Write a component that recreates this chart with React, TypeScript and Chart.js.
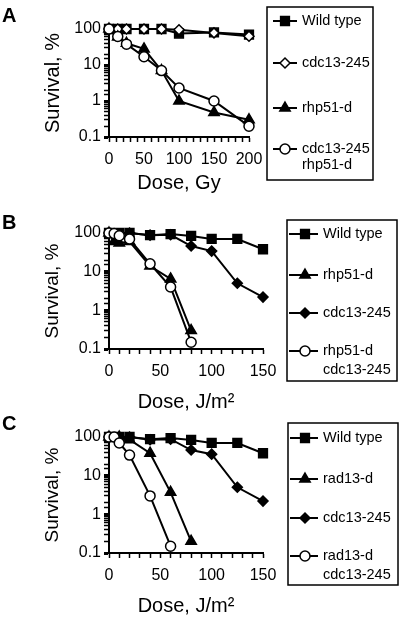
import React, { useEffect, useRef } from 'react';
import { Chart, registerables } from 'chart.js';
import { drawPoint } from 'chart.js/helpers';

Chart.register(...registerables);

const FAMILY = '"Liberation Sans", Arial, sans-serif';

// ---------- Panel A: ionising radiation (Gy) ----------
const doseA = [0, 12.5, 25, 50, 75, 100, 150, 200];
const wildTypeA = [100, 100, 100, 100, 100, 75, 80, 70];
const cdc13A = [100, 100, 100, 100, 100, 95, 78, 63];
const rhp51A = [100, 60, 40, 28, 7, 1.0, 0.48, 0.3];
const cdc13Rhp51A = [100, 62, 38, 17, 7, 2.3, 1.0, 0.2];
const xTicksA = [0, 50, 100, 150, 200];

// ---------- Panel B: UV (J/m2) ----------
const doseWtB = [0, 10, 20, 40, 60, 80, 100, 125, 150];
const wildTypeB = [100, 100, 100, 88, 94, 84, 70, 70, 38];
const doseRhp51B = [0, 5, 10, 20, 40, 60, 80];
const rhp51B = [100, 60, 55, 60, 14, 6.5, 0.3];
const doseCdc13B = [0, 20, 40, 60, 80, 100, 125, 150];
const cdc13B = [100, 100, 88, 90, 46, 34, 5, 2.2];
const doseDoubleB = [0, 5, 10, 20, 40, 60, 80];
const rhp51Cdc13B = [100, 97, 85, 70, 16, 4, 0.15];

// ---------- Panel C: UV (J/m2) ----------
const doseWtC = [0, 10, 20, 40, 60, 80, 100, 125, 150];
const wildTypeC = [100, 100, 100, 88, 94, 84, 70, 70, 38];
const doseRad13C = [0, 10, 20, 40, 60, 80];
const rad13C = [100, 100, 85, 38, 3.7, 0.2];
const doseCdc13C = [0, 20, 40, 60, 80, 100, 125, 150];
const cdc13C = [100, 100, 85, 88, 46, 36, 5, 2.2];
const doseDoubleC = [0, 5, 10, 20, 40, 60];
const rad13Cdc13C = [100, 100, 70, 34, 3, 0.15];
const xTicksBC = [0, 50, 100, 150];

const yTickLabels = [0.1, 1, 10, 100];

const labelsA = [['Wild type'], ['cdc13-245'], ['rhp51-d'], ['cdc13-245', 'rhp51-d']];
const labelsB = [['Wild type'], ['rhp51-d'], ['cdc13-245'], ['rhp51-d', 'cdc13-245']];
const labelsC = [['Wild type'], ['rad13-d'], ['cdc13-245'], ['rad13-d', 'cdc13-245']];

// ---------- marker styles ----------
const S_SQUARE = { pointStyle: 'rect', pointRadius: 6.2, fill: '#000', order: 4 };
const S_OPEN_DIAMOND = { pointStyle: 'rectRot', pointRadius: 5, fill: '#fff', order: 3 };
const S_TRIANGLE = { pointStyle: 'triangle', pointRadius: 6, fill: '#000', order: 2 };
const S_DIAMOND = { pointStyle: 'rectRot', pointRadius: 5, fill: '#000', order: 3 };
const S_CIRCLE = { pointStyle: 'circle', pointRadius: 5, fill: '#fff', order: 1 };

const pts = (xs: number[], ys: number[]) => xs.map((x, i) => ({ x, y: ys[i] }));

function makeDataset(label: string[], xs: number[], ys: number[], st: any) {
  return {
    label: label.join(' '),
    data: pts(xs, ys),
    borderColor: '#000',
    borderWidth: 2,
    pointStyle: st.pointStyle,
    pointRadius: st.pointRadius,
    pointBackgroundColor: st.fill,
    pointBorderColor: '#000',
    pointBorderWidth: 1.5,
    fill: false,
    tension: 0,
    clip: false,
    order: st.order,
  };
}

const panels = [
  {
    letter: 'A', letterY: 22,
    top: 0, height: 200, padTop: 29, padRight: 151, xAxisHeight: 63, xTitlePad: 5,
    xMax: 200, xTicks: xTicksA, xTitle: 'Dose, Gy', yTitleSize: 20,
    legend: { l: 267, t: 7, r: 373, b: 180, rows: [21, 63, 108, 149], x1: 273, x2: 297, mx: 285, tx: 302, lineGap: 16 },
    labels: labelsA,
    datasets: [
      makeDataset(labelsA[0], doseA, wildTypeA, S_SQUARE),
      makeDataset(labelsA[1], doseA, cdc13A, S_OPEN_DIAMOND),
      makeDataset(labelsA[2], doseA, rhp51A, S_TRIANGLE),
      makeDataset(labelsA[3], doseA, cdc13Rhp51A, S_CIRCLE),
    ],
    styles: [S_SQUARE, S_OPEN_DIAMOND, S_TRIANGLE, S_CIRCLE],
  },
  {
    letter: 'B', letterY: 29,
    top: 200, height: 215, padTop: 33, padRight: 137, xAxisHeight: 66, xTitlePad: 1,
    xMax: 150, xTicks: xTicksBC, xTitle: 'Dose, J/m\u00B2', yTitleSize: 19,
    legend: { l: 287, t: 20, r: 397, b: 181, rows: [34, 75, 113, 151], x1: 289, x2: 318, mx: 305, tx: 323, lineGap: 19 },
    labels: labelsB,
    datasets: [
      makeDataset(labelsB[0], doseWtB, wildTypeB, S_SQUARE),
      makeDataset(labelsB[1], doseRhp51B, rhp51B, S_TRIANGLE),
      makeDataset(labelsB[2], doseCdc13B, cdc13B, S_DIAMOND),
      makeDataset(labelsB[3], doseDoubleB, rhp51Cdc13B, S_CIRCLE),
    ],
    styles: [S_SQUARE, S_TRIANGLE, S_DIAMOND, S_CIRCLE],
  },
  {
    letter: 'C', letterY: 25,
    top: 405, height: 213, padTop: 32, padRight: 137, xAxisHeight: 65, xTitlePad: 0,
    xMax: 150, xTicks: xTicksBC, xTitle: 'Dose, J/m\u00B2', yTitleSize: 19,
    legend: { l: 288, t: 18, r: 398, b: 180, rows: [33, 74, 113, 151], x1: 290, x2: 318, mx: 305, tx: 323, lineGap: 19 },
    labels: labelsC,
    datasets: [
      makeDataset(labelsC[0], doseWtC, wildTypeC, S_SQUARE),
      makeDataset(labelsC[1], doseRad13C, rad13C, S_TRIANGLE),
      makeDataset(labelsC[2], doseCdc13C, cdc13C, S_DIAMOND),
      makeDataset(labelsC[3], doseDoubleC, rad13Cdc13C, S_CIRCLE),
    ],
    styles: [S_SQUARE, S_TRIANGLE, S_DIAMOND, S_CIRCLE],
  },
];

const isMajorLog = (v: number) => yTickLabels.some((t) => Math.abs(t - v) < 1e-9);

function Panel({ cfg }: { cfg: any }) {
  const ref = useRef<HTMLCanvasElement | null>(null);
  useEffect(() => {
    if (!ref.current) return;
    const lg = cfg.legend;
    const boxLegend = {
      id: 'boxLegend',
      afterDraw(chart: any) {
        const ctx = chart.ctx;
        ctx.save();
        // panel letter
        ctx.fillStyle = '#000';
        ctx.font = `bold 20px ${FAMILY}`;
        ctx.textBaseline = 'alphabetic';
        ctx.textAlign = 'left';
        ctx.fillText(cfg.letter, 2, cfg.letterY);
        // legend box
        ctx.lineWidth = 1.5;
        ctx.strokeStyle = '#000';
        ctx.strokeRect(lg.l, lg.t, lg.r - lg.l, lg.b - lg.t);
        cfg.labels.forEach((lines: string[], i: number) => {
          const y = lg.rows[i];
          const st = cfg.styles[i];
          ctx.beginPath();
          ctx.lineWidth = 2;
          ctx.strokeStyle = '#000';
          ctx.moveTo(lg.x1, y);
          ctx.lineTo(lg.x2, y);
          ctx.stroke();
          ctx.fillStyle = st.fill;
          ctx.strokeStyle = '#000';
          ctx.lineWidth = 1.5;
          drawPoint(ctx, { pointStyle: st.pointStyle, radius: st.pointRadius, rotation: 0, borderWidth: 1.5 }, lg.mx, y);
          ctx.fillStyle = '#000';
          ctx.font = `14.5px ${FAMILY}`;
          ctx.textBaseline = 'middle';
          lines.forEach((t: string, k: number) => ctx.fillText(t, lg.tx, y + k * lg.lineGap));
        });
        ctx.restore();
      },
    };
    const chart = new Chart(ref.current, {
      type: 'line',
      data: { datasets: cfg.datasets },
      plugins: [boxLegend],
      options: {
        animation: false,
        responsive: false,
        devicePixelRatio: 1,
        layout: { padding: { top: cfg.padTop, right: cfg.padRight, left: 0, bottom: 0 } },
        plugins: { legend: { display: false }, tooltip: { enabled: false } },
        scales: {
          x: {
            type: 'linear',
            min: 0,
            max: cfg.xMax,
            afterFit: (s: any) => { s.height = cfg.xAxisHeight; },
            border: { display: true, color: '#000', width: 2 },
            grid: { drawOnChartArea: false, drawTicks: true, tickLength: 5, tickColor: '#000', tickWidth: 1.5 },
            ticks: {
              stepSize: 10,
              autoSkip: false,
              maxRotation: 0,
              color: '#000',
              padding: 8,
              font: { family: FAMILY, size: 16 },
              callback: (v: any) => (cfg.xTicks.includes(Number(v)) ? String(v) : ''),
            },
            title: {
              display: true,
              text: cfg.xTitle,
              color: '#000',
              font: { family: FAMILY, size: 20, lineHeight: 1.2 },
              padding: { top: 0, bottom: cfg.xTitlePad },
            },
          },
          y: {
            type: 'logarithmic',
            min: 0.1,
            max: 100,
            afterFit: (s: any) => { s.width = 109; },
            border: { display: true, color: '#000', width: 2 },
            grid: {
              drawOnChartArea: false,
              drawTicks: true,
              tickLength: 5,
              tickColor: '#000',
              tickWidth: (c: any) => (c.tick && isMajorLog(c.tick.value) ? 3 : 1.5),
            },
            ticks: {
              autoSkip: false,
              color: '#000',
              padding: 3,
              font: { family: FAMILY, size: 16 },
              callback: (v: any) => {
                const n = Number(v);
                const m = yTickLabels.find((t) => Math.abs(t - n) < 1e-9);
                return m === undefined ? '' : String(m);
              },
            },
            title: {
              display: true,
              text: 'Survival, %',
              color: '#000',
              font: { family: FAMILY, size: cfg.yTitleSize, lineHeight: 1.2 },
              padding: { top: 41, bottom: 0 },
            },
          },
        },
      } as any,
    });
    return () => chart.destroy();
  }, []);
  return (
    <canvas
      ref={ref}
      width={400}
      height={cfg.height}
      style={{ position: 'absolute', left: 0, top: cfg.top, width: 400, height: cfg.height }}
    />
  );
}

export default function App() {
  return (
    <div style={{ position: 'absolute', left: 0, top: 0, width: 400, height: 618, background: '#fff' }}>
      {panels.map((p) => (
        <Panel key={p.letter} cfg={p} />
      ))}
    </div>
  );
}
